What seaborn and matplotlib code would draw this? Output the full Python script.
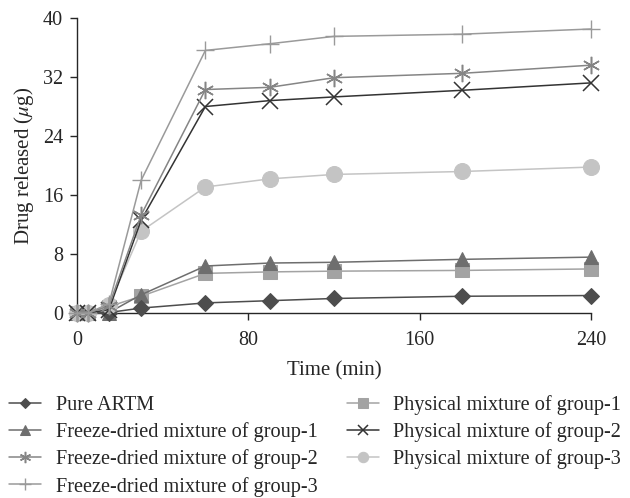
import pandas as pd
import matplotlib
matplotlib.use("Agg")
import matplotlib.pyplot as plt
import seaborn as sns

# time points (min)
time = [0, 5, 15, 30, 60, 90, 120, 180, 240]

# drug released (ug)
pure_artm = [0, 0, 0.1, 0.7, 1.4, 1.7, 2.0, 2.3, 2.4]
fd_group1 = [0, 0, 0.1, 2.5, 6.4, 6.8, 6.9, 7.3, 7.6]
fd_group2 = [0, 0, 1.0, 13.3, 30.3, 30.6, 31.9, 32.5, 33.6]
fd_group3 = [0, 0, 1.3, 18.0, 35.6, 36.5, 37.5, 37.8, 38.5]
pm_group1 = [0, 0, 0.9, 2.3, 5.4, 5.6, 5.7, 5.8, 6.0]
pm_group2 = [0, 0, 0.5, 12.6, 28.0, 28.8, 29.3, 30.2, 31.2]
pm_group3 = [0, 0, 1.1, 11.1, 17.1, 18.2, 18.8, 19.2, 19.8]

labels = ['Pure ARTM',
          'Freeze-dried mixture of group-1',
          'Freeze-dried mixture of group-2',
          'Freeze-dried mixture of group-3',
          'Physical mixture of group-1',
          'Physical mixture of group-2',
          'Physical mixture of group-3']
series = [pure_artm, fd_group1, fd_group2, fd_group3, pm_group1, pm_group2, pm_group3]

styles = [
    dict(color='#4d4d4d', marker='D', markersize=7.8),
    dict(color='#6e6e6e', marker='^', markersize=10.5),
    dict(color='#858585', marker=(6, 2, 0), markersize=12.5, markeredgewidth=1.1),
    dict(color='#9a9a9a', marker='+', markersize=12.5, markeredgewidth=1.0),
    dict(color='#a3a3a3', marker='s', markersize=10.5),
    dict(color='#333333', marker='x', markersize=11, markeredgewidth=1.1),
    dict(color='#c4c4c4', marker='o', markersize=11.5),
]

sns.set_style('ticks')
plt.rcParams['font.family'] = ['Liberation Serif', 'DejaVu Serif']
plt.rcParams['mathtext.fontset'] = 'stix'

fig = plt.figure(figsize=(6.3, 4.98), dpi=100)
ax = fig.add_axes([0.122, 0.371, 0.816, 0.593])

draw_order = [4, 1, 0, 6, 5, 2, 3]
for i in draw_order:
    st = dict(styles[i])
    sns.lineplot(x=time, y=series[i], ax=ax, label=labels[i], linewidth=1.1,
                 markeredgecolor=st['color'], clip_on=False, zorder=3, **st)

ax.set_xlim(0, 240)
ax.set_ylim(0, 40)
ax.set_xticks([0, 80, 160, 240])
ax.set_yticks([0, 8, 16, 24, 32, 40])
ax.tick_params(labelsize=14.5, length=5, width=1)
ax.tick_params(axis='x', pad=8)
ax.tick_params(axis='y', pad=5)
ax.set_xlabel('Time (min)', fontsize=15, labelpad=8)
ax.set_ylabel(r'Drug released ($\mu$g)', fontsize=15, labelpad=5)
sns.despine(ax=ax)
for sp in ax.spines.values():
    sp.set_linewidth(1)

handles, labs = ax.get_legend_handles_labels()
order = [labs.index(l) for l in labels]
ax.legend([handles[k] for k in order], [labs[k] for k in order],
          ncol=2, loc='upper left', bbox_to_anchor=(9 / 630, 1 - 395 / 498),
          bbox_transform=fig.transFigure,
          frameon=False, fontsize=14.6, markerscale=0.65,
          handlelength=1.6, handletextpad=0.7, columnspacing=1.45,
          labelspacing=0.36, borderaxespad=0, borderpad=0)

fig.savefig('out.png', dpi=100)
plt.close(fig)
